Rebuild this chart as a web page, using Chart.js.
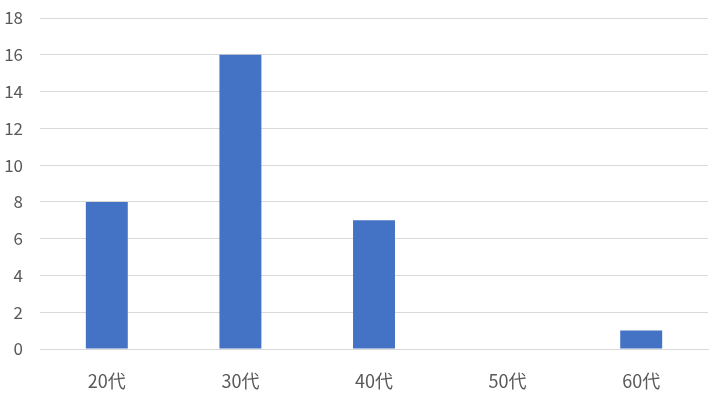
<!DOCTYPE html>
<html>
<head>
<meta charset="utf-8">
<script src="https://cdn.jsdelivr.net/npm/chart.js@4/dist/chart.umd.min.js"></script>
<style>
  html, body { margin: 0; padding: 0; background: #fff; }
  #wrap { width: 713px; height: 405px; position: relative; }
</style>
</head>
<body>
<div id="wrap"><canvas id="chart" width="713" height="405"></canvas></div>
<script>
const categories = ["20代", "30代", "40代", "50代", "60代"];
const counts = [8, 16, 7, 0, 1];
const yTicks = [0, 2, 4, 6, 8, 10, 12, 14, 16, 18];

const fontFamily = "'Noto Sans CJK JP', 'Liberation Sans', sans-serif";

new Chart(document.getElementById("chart").getContext("2d"), {
  type: "bar",
  data: {
    labels: categories,
    datasets: [{
      data: counts,
      backgroundColor: "#4472C4",
      barPercentage: 0.314,
      categoryPercentage: 1
    }]
  },
  options: {
    responsive: false,
    animation: false,
    layout: { padding: { top: 18, right: 5, left: 0, bottom: 0 } },
    plugins: {
      legend: { display: false },
      tooltip: { enabled: false }
    },
    scales: {
      x: {
        grid: { display: false, drawTicks: false },
        border: { display: true, color: "#d9d9d9", width: 1 },
        ticks: {
          color: "#595959",
          padding: 21,
          font: { family: fontFamily, size: 18 }
        },
        afterFit: (s) => { s.height = 56; s.paddingLeft = 0; s.paddingRight = 0; }
      },
      y: {
        min: 0,
        max: 18,
        afterBuildTicks: (s) => { s.ticks = yTicks.map(v => ({ value: v })); },
        grid: { color: "#d9d9d9", drawTicks: false },
        border: { display: false },
        ticks: {
          color: "#595959",
          padding: 17,
          font: { family: fontFamily, size: 17 }
        },
        afterFit: (s) => { s.width = 40; s.paddingTop = 0; s.paddingBottom = 0; }
      }
    }
  }
});
</script>
</body>
</html>
